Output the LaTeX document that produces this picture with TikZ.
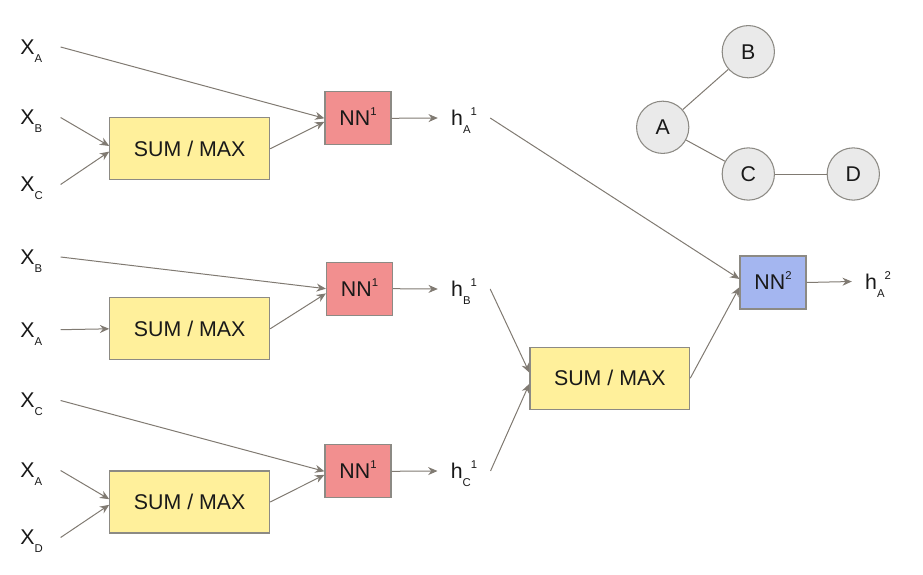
\documentclass[tikz,border=0pt]{standalone}
\usepackage{fontspec}
\setmainfont{Liberation Sans}
\usetikzlibrary{arrows.meta}
\definecolor{txt}{RGB}{25,25,25}
\definecolor{boxline}{RGB}{140,138,132}
\definecolor{linegray}{RGB}{128,122,114}
\definecolor{aggyellow}{RGB}{255,240,155}
\definecolor{nnred}{RGB}{242,143,143}
\definecolor{nnblue}{RGB}{164,182,240}
\definecolor{vertgray}{RGB}{234,234,234}
\newcommand{\lowtxt}[1]{\raisebox{-6pt}{\fontsize{8.5}{9}\selectfont #1}}
\newcommand{\hightxt}[1]{\raisebox{7.5pt}{\fontsize{8.5}{9}\selectfont #1}}
\newcommand{\xin}[1]{X\rlap{\smash{\lowtxt{#1}}}}
\newcommand{\hout}[2]{h\smash{\lowtxt{#1}}\smash{\hightxt{#2}}}

\begin{document}
\begin{tikzpicture}[x=0.75pt,y=-0.75pt]
  \tikzstyle{every node}=[font=\fontsize{16}{18}\selectfont,text=txt]
  \tikzstyle{xlab}=[inner sep=0pt,outer sep=19.5pt]
  \tikzstyle{hlab}=[inner sep=0pt,outer sep=10pt]
  \tikzstyle{aggr}=[draw=boxline,fill=aggyellow,line width=0.9pt,minimum width=119.8pt,minimum height=46.5pt,inner sep=0pt]
  \tikzstyle{nnone}=[draw=boxline,fill=nnred,line width=0.9pt,minimum width=49.5pt,minimum height=39.75pt,inner sep=0pt]
  \tikzstyle{nntwo}=[nnone,fill=nnblue]
  \tikzstyle{vert}=[circle,draw=boxline,fill=vertgray,line width=0.8pt,minimum size=39.2pt,inner sep=0pt]
  \tikzstyle{link}=[draw=linegray,line width=0.75pt]
  \tikzstyle{flow}=[link,-{Stealth[length=7pt,width=6pt]}]
  \useasboundingbox (0,0) rectangle (923,574);

  % first row
  \node[xlab] (xa1) at (27.5,47) {\xin{A}};
  \node[xlab] (xb1) at (27.5,117.5) {\xin{B}};
  \node[xlab] (xc1) at (27.5,184.5) {\xin{C}};
  \node[aggr] (sum1) at (189.7,148.8) {SUM / MAX};
  \node[nnone] (nn1a) at (358,118.3) {NN\smash{\hightxt{1}}};
  \node[hlab] (ha1) at (464,118) {\hout{A}{1}};

  % second row
  \node[xlab] (xb2) at (27.5,257) {\xin{B}};
  \node[xlab] (xa2) at (27.5,329.7) {\xin{A}};
  \node[aggr] (sum2) at (189.7,328.8) {SUM / MAX};
  \node[nnone] (nn1b) at (359.5,288.7) {NN\smash{\hightxt{1}}};
  \node[hlab] (hb1) at (464,289) {\hout{B}{1}};

  % third row
  \node[xlab] (xc3) at (27.5,400.5) {\xin{C}};
  \node[xlab] (xa3) at (27.5,470.5) {\xin{A}};
  \node[xlab] (xd3) at (27.5,537.5) {\xin{D}};
  \node[aggr] (sum3) at (189.7,502) {SUM / MAX};
  \node[nnone] (nn1c) at (358,471.3) {NN\smash{\hightxt{1}}};
  \node[hlab] (hc1) at (464,471) {\hout{C}{1}};

  % second layer
  \node[aggr] (sum4) at (609.8,378.2) {SUM / MAX};
  \node[nntwo] (nn2) at (773,282.5) {NN\smash{\hightxt{2}}};
  \node[hlab] (ha2) at (878,281.5) {\hout{A}{2}};

  % small graph
  \node[vert] (A) at (662.7,127.3) {A};
  \node[vert] (B) at (748.3,51.7) {B};
  \node[vert] (C) at (748.3,174) {C};
  \node[vert] (D) at (853.3,174) {D};
  \draw[link] (A) -- (B);
  \draw[link] (A) -- (C);
  \draw[link] (C) -- (D);

  \draw[flow] (xa1.east) -- (nn1a.west);
  \draw[flow] (xb1.east) -- (sum1.178);
  \draw[flow] (xc1.east) -- (sum1.182);
  \draw[flow] (sum1.east) -- (nn1a.186);
  \draw[flow] (nn1a.east) -- (ha1.west);

  \draw[flow] (xb2.east) -- (nn1b.west);
  \draw[flow] (xa2.east) -- (sum2.west);
  \draw[flow] (sum2.east) -- (nn1b.188);
  \draw[flow] (nn1b.east) -- (hb1.west);

  \draw[flow] (xc3.east) -- (nn1c.west);
  \draw[flow] (xa3.east) -- (sum3.178);
  \draw[flow] (xd3.east) -- (sum3.182);
  \draw[flow] (sum3.east) -- (nn1c.186);
  \draw[flow] (nn1c.east) -- (hc1.west);

  \draw[flow] (ha1.east) -- (nn2.174);
  \draw[flow] (hb1.east) -- (sum4.176);
  \draw[flow] (hc1.east) -- (sum4.184);
  \draw[flow] (sum4.east) -- (nn2.188);
  \draw[flow] (nn2.east) -- (ha2.west);
\end{tikzpicture}
\end{document}
